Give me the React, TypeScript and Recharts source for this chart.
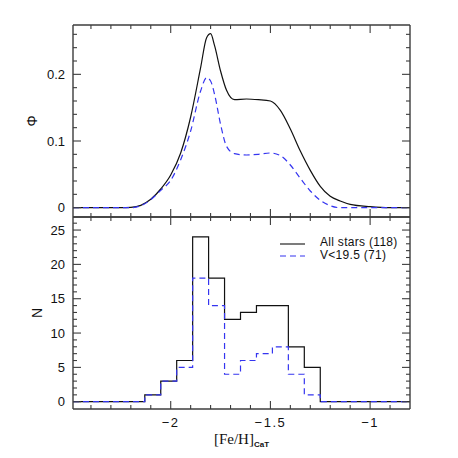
import { LineChart, Line, XAxis, YAxis, Legend } from 'recharts';

// smoothed metallicity distributions (top panel)
const phiX = [-2.49, -2.25, -2.2, -2.15, -2.1, -2.05, -2.0, -1.95, -1.9, -1.85, -1.82, -1.8, -1.78, -1.75, -1.72, -1.68, -1.62, -1.56, -1.5, -1.45, -1.4, -1.35, -1.3, -1.25, -1.2, -1.15, -1.1, -1.0, -0.9, -0.8];
const phiAll = [0, 0, 0.0005, 0.0035, 0.0125, 0.028, 0.049, 0.082, 0.136, 0.21, 0.255, 0.261, 0.243, 0.205, 0.176, 0.162, 0.163, 0.162, 0.16, 0.146, 0.118, 0.085, 0.056, 0.032, 0.017, 0.01, 0.005, 0.0015, 0, 0];
const phiBright = [0, 0, 0, 0.003, 0.012, 0.026, 0.041, 0.072, 0.115, 0.175, 0.195, 0.19, 0.17, 0.125, 0.092, 0.081, 0.079, 0.08, 0.082, 0.078, 0.064, 0.044, 0.025, 0.011, 0.003, 0, 0, 0, 0, 0];

// histograms (bottom panel)
const binEdges = [-2.13, -2.05, -1.97, -1.89, -1.81, -1.73, -1.65, -1.57, -1.49, -1.41, -1.33, -1.25];
const countsAll = [1, 3, 6, 24, 18, 12, 13, 14, 14, 8, 5];
const countsBright = [1, 3, 5, 18, 14, 4, 6, 7, 8, 4, 1];

const xDomain = [-2.49, -0.8];
const xTicks = [-2.4, -2.3, -2.2, -2.1, -2.0, -1.9, -1.8, -1.7, -1.6, -1.5, -1.4, -1.3, -1.2, -1.1, -1.0, -0.9];
const xMajor = [-2, -1.5, -1];
const phiTicks = [0, 0.02, 0.04, 0.06, 0.08, 0.1, 0.12, 0.14, 0.16, 0.18, 0.2, 0.22, 0.24, 0.26];
const phiMajor = [0, 0.1, 0.2];
const nTicks = [0, 1, 2, 3, 4, 5, 6, 7, 8, 9, 10, 11, 12, 13, 14, 15, 16, 17, 18, 19, 20, 21, 22, 23, 24, 25, 26];
const nMajor = [0, 5, 10, 15, 20, 25];

const FRAME = '#3c3c3c';
const BLUE = '#3535f0';
const LABEL_FONT = '"Liberation Sans", Arial, sans-serif';

const phiData = phiX.map((x, i) => ({ x, all: phiAll[i], bright: phiBright[i] }));
const histData = [
  { x: xDomain[0], all: 0, bright: 0 },
  ...binEdges.map((e, i) => ({ x: e, all: countsAll[i] ?? 0, bright: countsBright[i] ?? 0 })),
  { x: xDomain[1], all: 0, bright: 0 },
];

const fmt = (v: number) => (v < 0 ? '\u2212' + Math.abs(v) : String(v));

function InTick(props: any) {
  const { x, y, payload, side, majors, showLabel } = props;
  const v = payload.value;
  const isMajor = majors.some((m: number) => Math.abs(m - v) < 1e-6);
  const len = isMajor ? 8 : 4;
  let line;
  if (side === 'bottom') line = <line x1={x} y1={y} x2={x} y2={y - len} />;
  else if (side === 'top') line = <line x1={x} y1={y} x2={x} y2={y + len} />;
  else if (side === 'left') line = <line x1={x} y1={y} x2={x + len} y2={y} />;
  else line = <line x1={x} y1={y} x2={x - len} y2={y} />;
  return (
    <g stroke={FRAME} strokeWidth={1.1}>
      {line}
      {showLabel && isMajor && side === 'bottom' && (
        <text x={x} y={y + 18} textAnchor="middle" stroke="none" fill="#111" fontSize={13} fontFamily={LABEL_FONT} letterSpacing={1.5}>
          {fmt(v)}
        </text>
      )}
      {showLabel && isMajor && side === 'left' && (
        <text x={x - 8} y={y} dy="0.35em" textAnchor="end" stroke="none" fill="#111" fontSize={13} fontFamily={LABEL_FONT}>
          {fmt(v)}
        </text>
      )}
    </g>
  );
}

const axisLine = { stroke: FRAME, strokeWidth: 1.4 };

function YTitle(props: any) {
  const vb = props.viewBox || { x: 0, y: 0, height: 0 };
  const cx = vb.x + props.dx;
  const cy = vb.y + vb.height / 2;
  return (
    <text x={cx} y={cy} transform={`rotate(-90 ${cx} ${cy})`} textAnchor="middle" dy="0.35em" fill="#111" fontSize={14} fontFamily={LABEL_FONT}>
      {props.text}
    </text>
  );
}

function XTitle(props: any) {
  const vb = props.viewBox || { x: 0, y: 0, width: 0 };
  const cx = vb.x + vb.width / 2;
  return (
    <text x={cx} y={vb.y + 35} textAnchor="middle" fill="#111" fontFamily='"Liberation Serif", serif' fontSize={15}>
      [Fe/H]
      <tspan fontSize={8} fontWeight="bold" fontFamily={LABEL_FONT} dy={3}>CaT</tspan>
    </text>
  );
}

function LegendBox(props: any) {
  const items = props.payload || [];
  return (
    <svg width={135} height={34} style={{ display: 'block' }}>
      {items.map((it: any, i: number) => (
        <g key={i}>
          <line x1={2} x2={27} y1={10 + i * 12} y2={10 + i * 12} stroke={it.color} strokeWidth={1.1} strokeDasharray={it.payload?.strokeDasharray} />
          <text x={42} y={8 + i * 13} dy="0.35em" fontSize={12} letterSpacing={0.3} fontFamily={LABEL_FONT} fill="#111">
            {it.value}
          </text>
        </g>
      ))}
    </svg>
  );
}

function Axes({ yTicks, yMajor, yDomain, bottomLabels, yTitle, titleDx }: any) {
  return [
    <XAxis key="xb" xAxisId="b" dataKey="x" type="number" domain={xDomain} allowDataOverflow ticks={xTicks} interval={0} height={1} tickSize={0} tickMargin={0} tickLine={false} axisLine={axisLine}
      tick={<InTick side="bottom" majors={xMajor} showLabel={bottomLabels} />}
      label={bottomLabels ? <XTitle /> : undefined} />,
    <XAxis key="xt" xAxisId="t" orientation="top" dataKey="x" type="number" domain={xDomain} allowDataOverflow ticks={xTicks} interval={0} height={1} tickSize={0} tickMargin={0} tickLine={false} axisLine={axisLine}
      tick={<InTick side="top" majors={xMajor} showLabel={false} />} />,
    <YAxis key="yl" yAxisId="l" type="number" domain={yDomain} allowDataOverflow ticks={yTicks} interval={0} width={73} tickSize={0} tickMargin={0} tickLine={false} axisLine={axisLine}
      tick={<InTick side="left" majors={yMajor} showLabel />}
      label={<YTitle text={yTitle} dx={titleDx} />} />,
    <YAxis key="yr" yAxisId="r" orientation="right" type="number" domain={yDomain} allowDataOverflow ticks={yTicks} interval={0} width={1} tickSize={0} tickMargin={0} tickLine={false} axisLine={axisLine}
      tick={<InTick side="right" majors={yMajor} showLabel={false} />} />,
  ];
}

export default function App() {
  return (
    <div style={{ position: 'absolute', left: 0, top: 0, width: 458, height: 458, background: '#fff' }}>
      <div style={{ position: 'absolute', left: 0, top: 0 }}>
        <LineChart width={458} height={218} data={phiData} margin={{ top: 24, right: 47, bottom: 0, left: 0 }}>
          {Axes({ yTicks: phiTicks, yMajor: phiMajor, yDomain: [-0.014, 0.274], bottomLabels: false, yTitle: '\u03A6', titleDx: 32 })}
          <Line xAxisId="b" yAxisId="l" type="monotone" dataKey="all" stroke="#111" strokeWidth={1.2} dot={false} activeDot={false} isAnimationActive={false} />
          <Line xAxisId="b" yAxisId="l" type="monotone" dataKey="bright" stroke={BLUE} strokeWidth={1.2} strokeDasharray="6 4" dot={false} activeDot={false} isAnimationActive={false} />
        </LineChart>
      </div>
      <div style={{ position: 'absolute', left: 0, top: 216 }}>
        <LineChart width={458} height={242} data={histData} margin={{ top: 0, right: 47, bottom: 48, left: 0 }}>
          {Axes({ yTicks: nTicks, yMajor: nMajor, yDomain: [-1.06, 26.9], bottomLabels: true, yTitle: 'N', titleDx: 37 })}
          <Line xAxisId="b" yAxisId="l" type="stepAfter" dataKey="all" name="All stars (118)" stroke="#111" strokeWidth={1.2} dot={false} activeDot={false} isAnimationActive={false} />
          <Line xAxisId="b" yAxisId="l" type="stepAfter" dataKey="bright" name="V<19.5 (71)" stroke={BLUE} strokeWidth={1.2} strokeDasharray="6 4" dot={false} activeDot={false} isAnimationActive={false} />
          <Legend layout="horizontal" verticalAlign="middle" align="center" content={<LegendBox />}
            wrapperStyle={{ position: 'absolute', left: 278, top: 18, width: 'auto', height: 'auto' }} />
        </LineChart>
      </div>
    </div>
  );
}
